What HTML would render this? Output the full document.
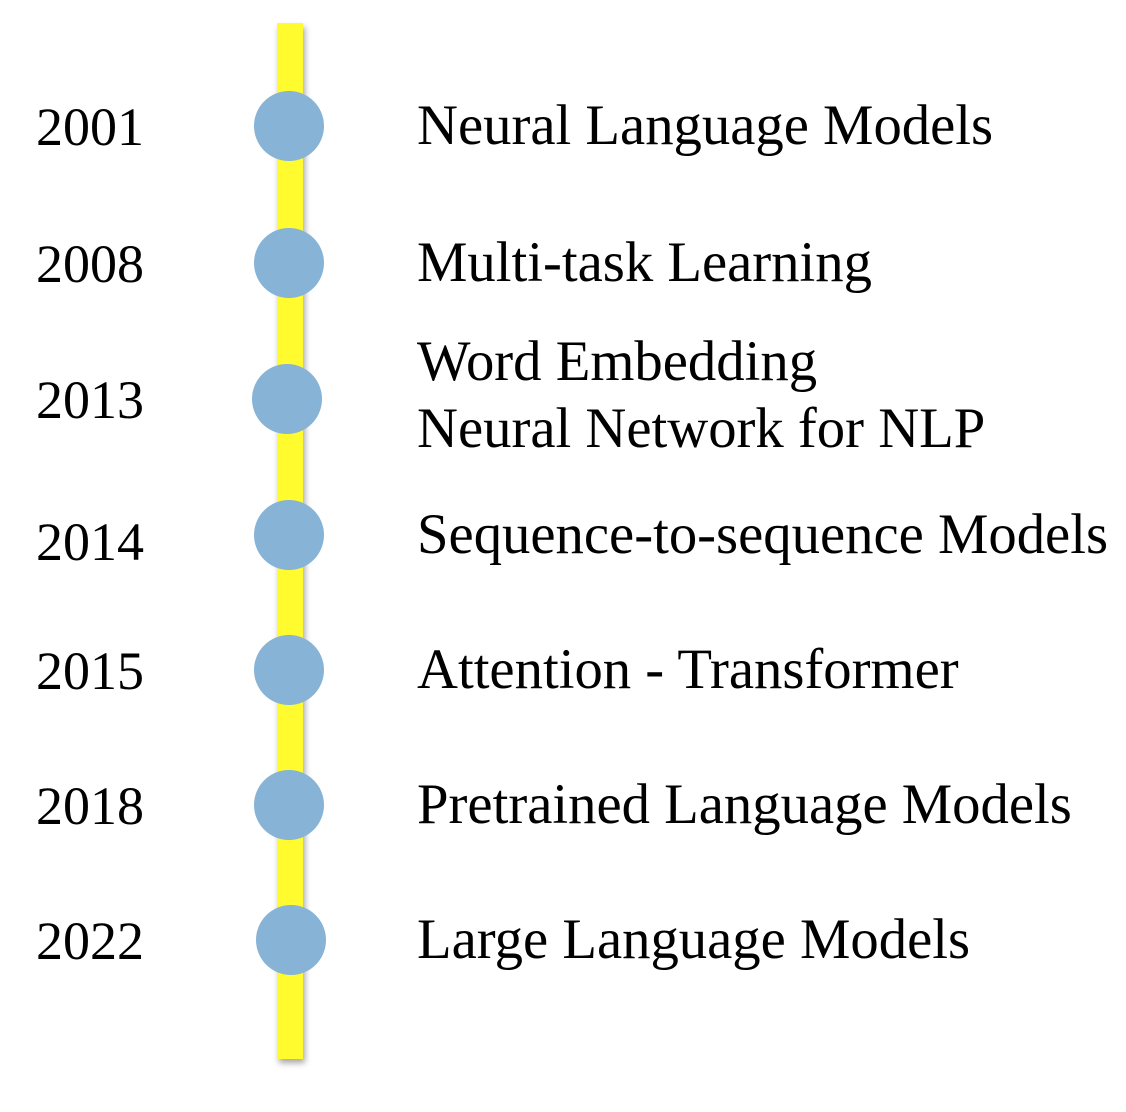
<!DOCTYPE html>
<html><head><style>
body{margin:0;background:#fff;width:1126px;height:1112px;position:relative;overflow:hidden;font-family:"Liberation Serif",serif;font-size:54px;color:#000}
.bar{position:absolute;left:277px;top:23px;width:26px;height:1036px;background:#fffb2e;box-shadow:2px 4px 6px rgba(0,0,0,0.35)}
.c{position:absolute;left:254px;width:70px;height:70px;border-radius:50%;background:#86b3d6}
.t{position:absolute;line-height:1;white-space:nowrap}
.l{font-size:56.7px}
</style></head><body>
<div class="bar"></div>
<div class="c" style="top:91px"></div>
<div class="c" style="top:228px"></div>
<div class="c" style="top:364px;left:252px"></div>
<div class="c" style="top:500px"></div>
<div class="c" style="top:635px"></div>
<div class="c" style="top:770px"></div>
<div class="c" style="top:905px;left:256px"></div>
<div class="t" style="left:36px;top:100px">2001</div>
<div class="t" style="left:36px;top:237px">2008</div>
<div class="t" style="left:36px;top:373px">2013</div>
<div class="t" style="left:36px;top:515px">2014</div>
<div class="t" style="left:36px;top:644px">2015</div>
<div class="t" style="left:36px;top:779px">2018</div>
<div class="t" style="left:36px;top:914px">2022</div>
<div class="t l" style="left:417px;top:98px">Neural Language Models</div>
<div class="t l" style="left:417px;top:235px">Multi-task Learning</div>
<div class="t l" style="left:417px;top:334px">Word Embedding</div>
<div class="t l" style="left:417px;top:401px">Neural Network for NLP</div>
<div class="t l" style="left:417px;top:507px">Sequence-to-sequence Models</div>
<div class="t l" style="left:417px;top:642px">Attention - Transformer</div>
<div class="t l" style="left:417px;top:777px">Pretrained Language Models</div>
<div class="t l" style="left:417px;top:912px">Large Language Models</div>
</body></html>
